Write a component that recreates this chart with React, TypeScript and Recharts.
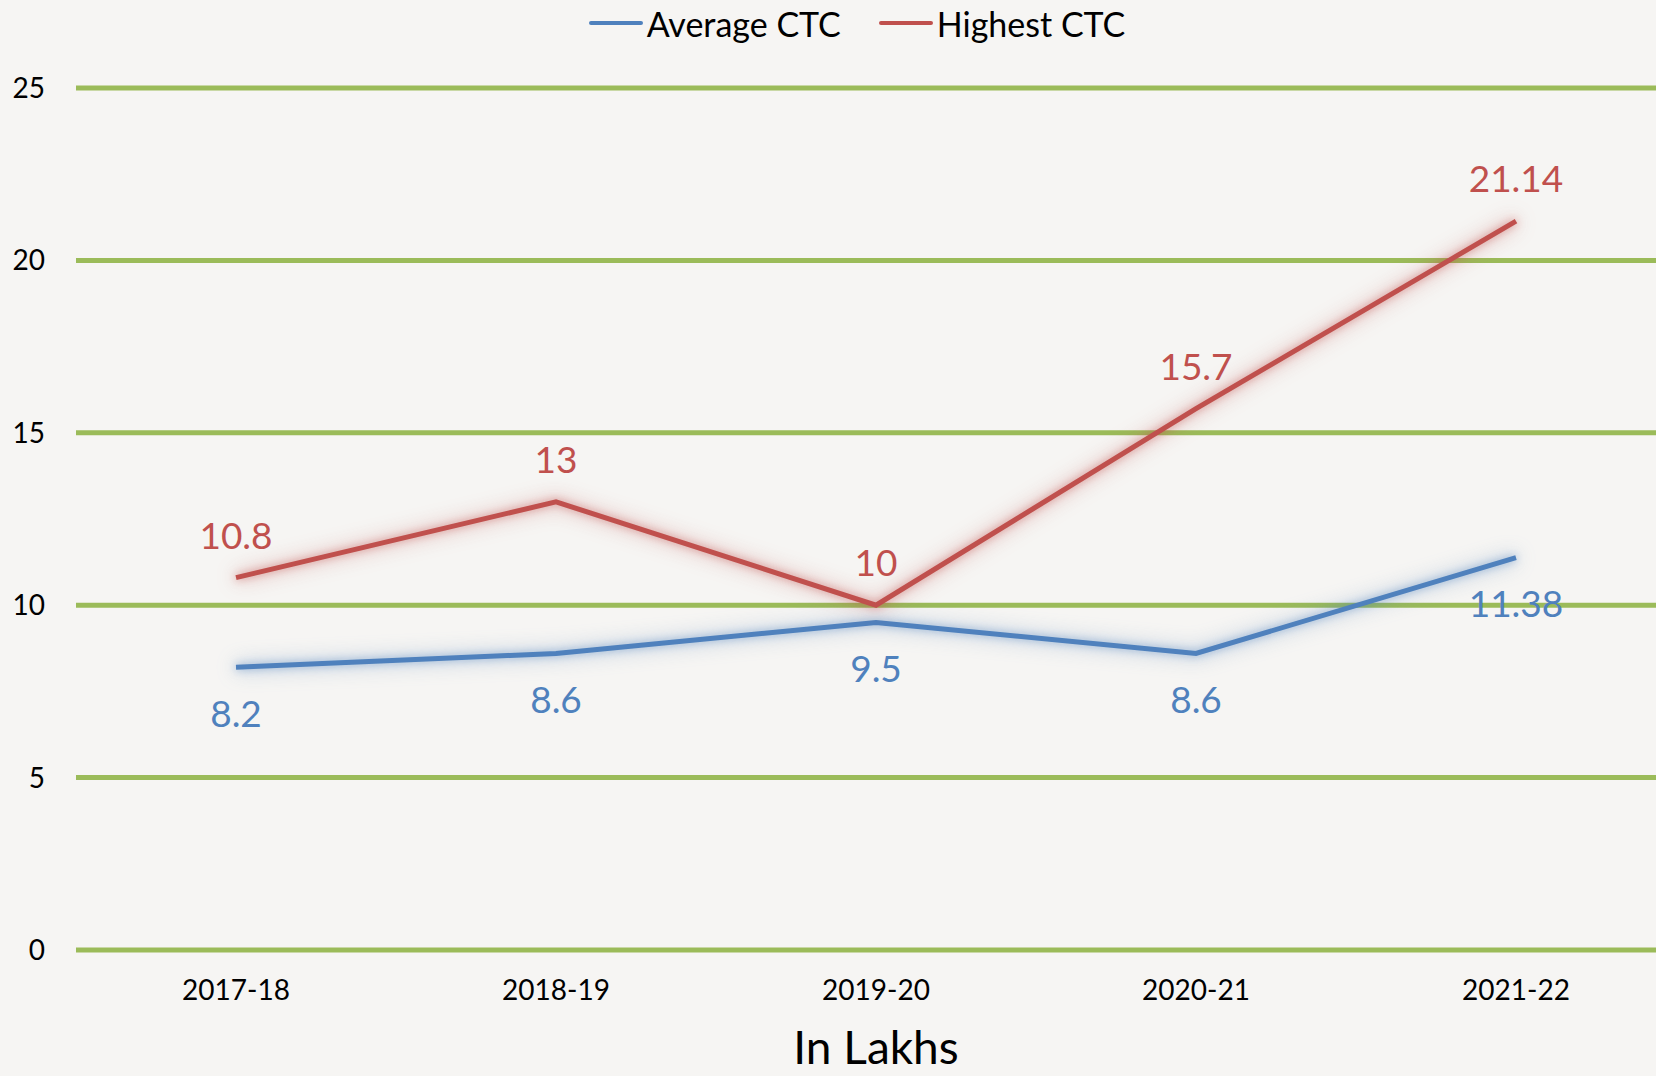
import { LineChart, Line, XAxis, YAxis, CartesianGrid, Legend, LabelList, Label } from "recharts"

const categories = ["2017-18", "2018-19", "2019-20", "2020-21", "2021-22"]
const averageCtc = [8.2, 8.6, 9.5, 8.6, 11.38]
const highestCtc = [10.8, 13, 10, 15.7, 21.14]
const yTicks = [0, 5, 10, 15, 20, 25]

const series = [
  { key: "average", name: "Average CTC", color: "#4F81BD" },
  { key: "highest", name: "Highest CTC", color: "#C0504D" },
]

const data = categories.map((year, i) => ({
  year,
  average: averageCtc[i],
  highest: highestCtc[i],
}))

const FONT = "Lato, 'Open Sans', sans-serif"

// soft glow under the series, light shadow under gridlines
const css = `
.grid-shadow line { filter: drop-shadow(2px 3px 2px rgba(0,0,0,0.3)); }
.avg-line .recharts-line-curve { filter: drop-shadow(0 0 4px rgba(79,129,189,0.6)) drop-shadow(0 0 10px rgba(79,129,189,0.45)); }
.high-line .recharts-line-curve { filter: drop-shadow(0 0 4px rgba(192,80,77,0.6)) drop-shadow(0 0 10px rgba(192,80,77,0.45)); }
`

const renderLegend = () => (
  <div
    style={{
      display: "flex",
      justifyContent: "center",
      alignItems: "center",
      height: 46,
      fontFamily: FONT,
      fontSize: 34,
      color: "#000",
    }}
  >
    {series.map((s, i) => (
      <div key={s.key} style={{ display: "flex", alignItems: "center", marginRight: i === 0 ? 38 : 0 }}>
        <span style={{ display: "inline-block", width: 54, height: 4, borderRadius: 2, background: s.color, marginRight: 4 }} />
        <span>{s.name}</span>
      </div>
    ))}
  </div>
)

export default function App() {
  return (
    <div
      style={{
        position: "fixed",
        top: 0,
        left: 0,
        width: 1656,
        height: 1076,
        overflow: "hidden",
        background: "#F6F5F3",
      }}
    >
      <style>{css}</style>
      <LineChart width={1676} height={1076} data={data} margin={{ top: 88, right: 0, bottom: 0, left: 0 }}>
        <CartesianGrid className="grid-shadow" vertical={false} stroke="#9BBB59" strokeWidth={5} />
        <XAxis
          dataKey="year"
          height={126}
          axisLine={false}
          tickLine={false}
          tickSize={0}
          tickMargin={30}
          padding={{ left: 160, right: 160 }}
          tick={{ fontSize: 28, fill: "#000", fontFamily: FONT }}
        >
          <Label value="In Lakhs" position="insideBottom" offset={12} fontSize={46} fill="#000" fontFamily={FONT} />
        </XAxis>
        <YAxis
          width={76}
          domain={[0, 25]}
          ticks={yTicks}
          axisLine={false}
          tickLine={false}
          tickSize={0}
          tickMargin={31}
          tick={{ fontSize: 28, fill: "#000", fontFamily: FONT }}
        />
        <Legend verticalAlign="middle" align="center" wrapperStyle={{ top: 0, left: 0, width: 1714 }} content={renderLegend} />
        <Line
          className="avg-line"
          type="linear"
          dataKey="average"
          name="Average CTC"
          stroke="#4F81BD"
          strokeWidth={5}
          dot={false}
          activeDot={false}
          isAnimationActive={false}
        >
          <LabelList dataKey="average" position="bottom" offset={33} fill="#4F81BD" fontSize={37} fontFamily={FONT} />
        </Line>
        <Line
          className="high-line"
          type="linear"
          dataKey="highest"
          name="Highest CTC"
          stroke="#C0504D"
          strokeWidth={5}
          dot={false}
          activeDot={false}
          isAnimationActive={false}
        >
          <LabelList dataKey="highest" position="top" offset={29} fill="#C0504D" fontSize={37} fontFamily={FONT} />
        </Line>
      </LineChart>
    </div>
  )
}
